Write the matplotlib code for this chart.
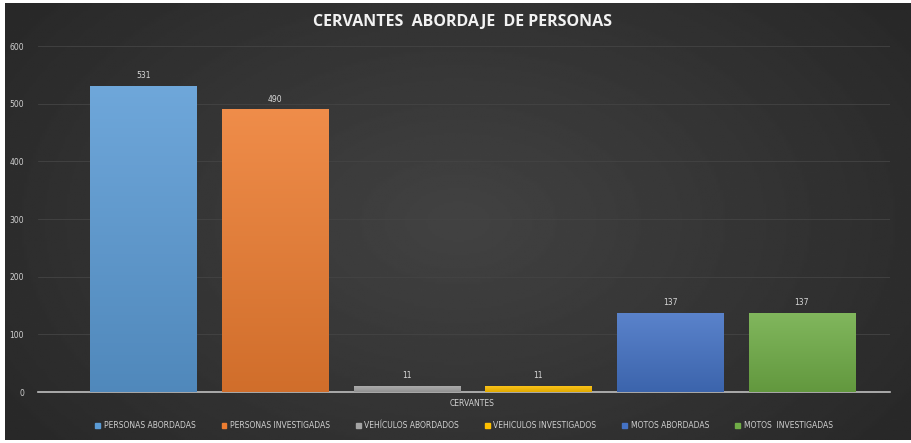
import numpy as np
import matplotlib
matplotlib.use("Agg")
import matplotlib.pyplot as plt
from matplotlib.colors import LinearSegmentedColormap, to_rgb

title = "CERVANTES  ABORDAJE  DE PERSONAS"
category = "CERVANTES"
series = ["PERSONAS ABORDADAS", "PERSONAS INVESTIGADAS", "VEHÍCULOS ABORDADOS",
          "VEHICULOS INVESTIGADOS", "MOTOS ABORDADAS", "MOTOS  INVESTIGADAS"]
values = [531, 490, 11, 11, 137, 137]
colors = ["#5b9bd5", "#ed7d31", "#a5a5a5", "#ffc000", "#4472c4", "#70ad47"]
yticks = [0, 100, 200, 300, 400, 500, 600]

W, H = 912, 443
fig = plt.figure(figsize=(W / 100, H / 100), dpi=100)
fig.patch.set_facecolor("white")

# background with soft radial gradient
bg = fig.add_axes([5 / W, 3 / H, (W - 5) / W, (H - 6) / H])
bg.set_axis_off()
yy, xx = np.mgrid[0:1:200j, 0:1:400j]
r = np.sqrt(((xx - 0.5) / 0.6) ** 2 + ((yy - 0.5) / 0.8) ** 2)
shade = np.clip(0.26 - 0.10 * r, 0.16, 0.26)
bg.imshow(shade, cmap="gray", vmin=0, vmax=1, aspect="auto", extent=[0, 1, 0, 1])
bg.set_xlim(0, 1); bg.set_ylim(0, 1)
bg.set_zorder(-10)

ax = fig.add_axes([38 / W, 1 - 392 / H, 852 / W, (392 - 46) / H])
ax.set_facecolor("none")
x = np.arange(len(values))
bars = ax.bar(x, values, width=0.805, color=colors, zorder=3)
for b, c in zip(bars, colors):
    rgb = np.array(to_rgb(c))
    light = np.clip(rgb + (1 - rgb) * 0.12, 0, 1)
    dark = rgb * 0.88
    cmap = LinearSegmentedColormap.from_list("g", [dark, light])
    grad = np.linspace(0, 1, 100).reshape(-1, 1)
    im = ax.imshow(grad, cmap=cmap, aspect="auto", origin="lower",
                   extent=[b.get_x(), b.get_x() + b.get_width(), 0, max(b.get_height(), 1)],
                   zorder=4)
    im.set_clip_path(b)
for xi, v in zip(x, values):
    ax.text(xi, v + 10, str(v), ha="center", va="bottom", fontsize=5.5, color="#d9d9d9", zorder=5)

ax.set_xlim(-0.80, 5.67)
ax.set_ylim(0, 600)
ax.set_yticks(yticks)
ax.set_yticklabels([str(t) for t in yticks], fontsize=5.5, color="#d0d0d0")
ax.tick_params(axis="y", length=0, pad=10)
ax.set_xticks([])
ax.grid(axis="y", color="#444444", linewidth=0.6, zorder=0)
for s in ["top", "right", "left"]:
    ax.spines[s].set_visible(False)
ax.spines["bottom"].set_color("#bfbfbf")
ax.spines["bottom"].set_linewidth(1.2)
ax.set_aspect("auto")

fig.text(472 / W, 1 - 404 / H, category, ha="center", va="center", fontsize=5.5, color="#d0d0d0")
fig.text(463 / W, 1 - 22 / H, title, ha="center", va="center", fontsize=11.5,
         fontweight="bold", color="#f2f2f2", family="Open Sans")

handles = [plt.Rectangle((0, 0), 1, 1, color=c) for c in colors]
leg = fig.legend(handles, series, loc="center", bbox_to_anchor=(464 / W, 1 - 426 / H), ncol=6,
                 frameon=False, fontsize=5.5, handlelength=0.6, handleheight=0.6,
                 handletextpad=0.5, columnspacing=3.4)
for t in leg.get_texts():
    t.set_color("#d0d0d0")

fig.savefig("out.png", dpi=100, facecolor=fig.get_facecolor())
